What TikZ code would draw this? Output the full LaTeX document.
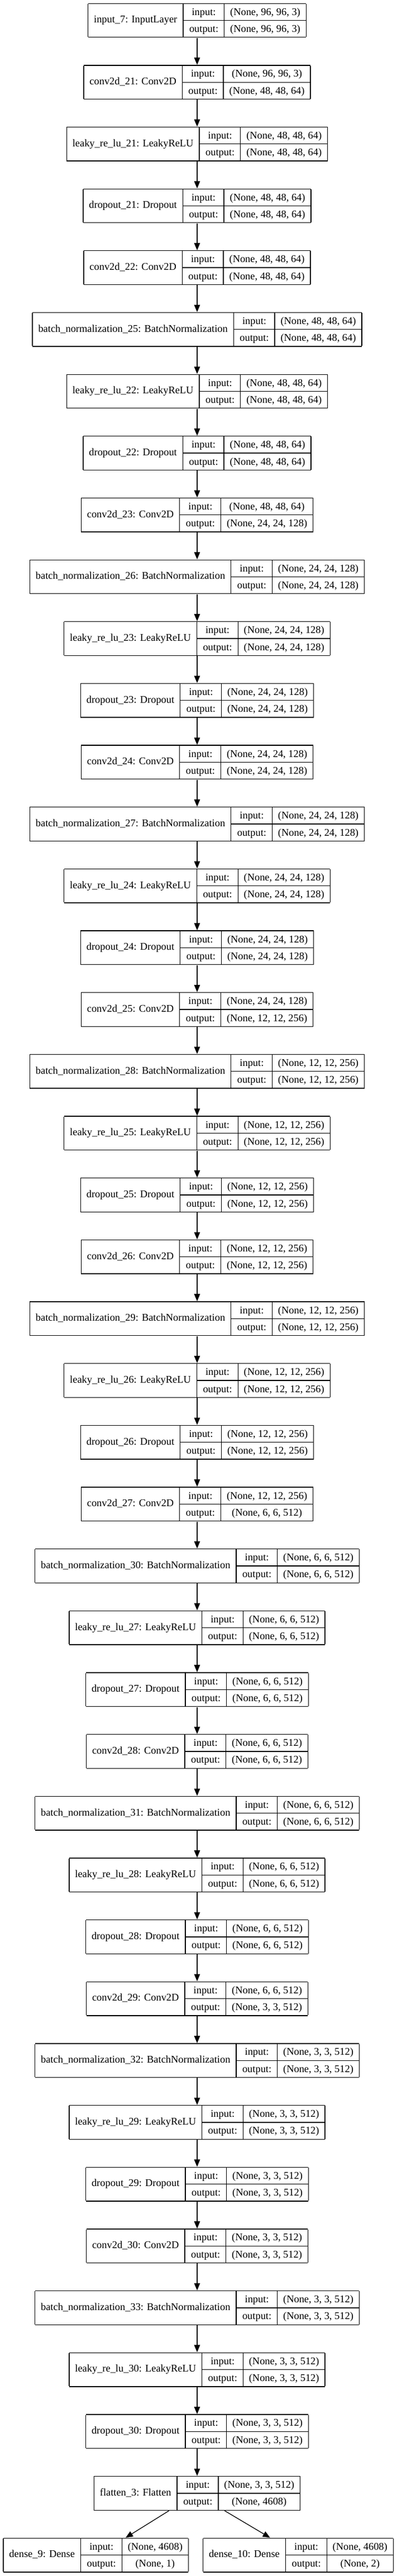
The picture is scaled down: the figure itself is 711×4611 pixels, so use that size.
\documentclass[tikz,border=0pt]{standalone}
\usepackage{fontspec}
\setmainfont{Liberation Serif}
\usetikzlibrary{arrows.meta}
\tikzset{layer/.style={inner sep=0pt,font=\fontsize{18.4}{29}\selectfont},
  flow/.style={-{Triangle[length=13pt,width=10.5pt]},line width=1.3pt}}
\newcommand{\layerbox}[3]{%
  \setlength{\tabcolsep}{10.5pt}\setlength{\arrayrulewidth}{1.3pt}%
  \begin{tabular}{|c|@{}c@{}|}\hline
  #1 & \begin{tabular}{c|c}input: & #2\\\hline output: & #3\end{tabular}\\\hline
  \end{tabular}}

\begin{document}
\begin{tikzpicture}[x=1pt,y=1pt]
            \useasboundingbox (0,0) rectangle (711,-4611);
            % слои
            \node[layer] (l1) at (353,-36.5) {\layerbox{input\_7: InputLayer}{(None, 96, 96, 3)}{(None, 96, 96, 3)}};
            \node[layer] (l2) at (353,-147.16) {\layerbox{conv2d\_21: Conv2D}{(None, 96, 96, 3)}{(None, 48, 48, 64)}};
            \node[layer] (l3) at (353,-257.82) {\layerbox{leaky\_re\_lu\_21: LeakyReLU}{(None, 48, 48, 64)}{(None, 48, 48, 64)}};
            \node[layer] (l4) at (353,-368.48) {\layerbox{dropout\_21: Dropout}{(None, 48, 48, 64)}{(None, 48, 48, 64)}};
            \node[layer] (l5) at (353,-479.14) {\layerbox{conv2d\_22: Conv2D}{(None, 48, 48, 64)}{(None, 48, 48, 64)}};
            \node[layer] (l6) at (353,-589.8) {\layerbox{batch\_normalization\_25: BatchNormalization}{(None, 48, 48, 64)}{(None, 48, 48, 64)}};
            \node[layer] (l7) at (353,-700.46) {\layerbox{leaky\_re\_lu\_22: LeakyReLU}{(None, 48, 48, 64)}{(None, 48, 48, 64)}};
            \node[layer] (l8) at (353,-811.12) {\layerbox{dropout\_22: Dropout}{(None, 48, 48, 64)}{(None, 48, 48, 64)}};
            \node[layer] (l9) at (353,-921.78) {\layerbox{conv2d\_23: Conv2D}{(None, 48, 48, 64)}{(None, 24, 24, 128)}};
            \node[layer] (l10) at (353,-1032.44) {\layerbox{batch\_normalization\_26: BatchNormalization}{(None, 24, 24, 128)}{(None, 24, 24, 128)}};
            \node[layer] (l11) at (353,-1143.1) {\layerbox{leaky\_re\_lu\_23: LeakyReLU}{(None, 24, 24, 128)}{(None, 24, 24, 128)}};
            \node[layer] (l12) at (353,-1253.76) {\layerbox{dropout\_23: Dropout}{(None, 24, 24, 128)}{(None, 24, 24, 128)}};
            \node[layer] (l13) at (353,-1364.42) {\layerbox{conv2d\_24: Conv2D}{(None, 24, 24, 128)}{(None, 24, 24, 128)}};
            \node[layer] (l14) at (353,-1475.08) {\layerbox{batch\_normalization\_27: BatchNormalization}{(None, 24, 24, 128)}{(None, 24, 24, 128)}};
            \node[layer] (l15) at (353,-1585.74) {\layerbox{leaky\_re\_lu\_24: LeakyReLU}{(None, 24, 24, 128)}{(None, 24, 24, 128)}};
            \node[layer] (l16) at (353,-1696.4) {\layerbox{dropout\_24: Dropout}{(None, 24, 24, 128)}{(None, 24, 24, 128)}};
            \node[layer] (l17) at (353,-1807.06) {\layerbox{conv2d\_25: Conv2D}{(None, 24, 24, 128)}{(None, 12, 12, 256)}};
            \node[layer] (l18) at (353,-1917.72) {\layerbox{batch\_normalization\_28: BatchNormalization}{(None, 12, 12, 256)}{(None, 12, 12, 256)}};
            \node[layer] (l19) at (353,-2028.38) {\layerbox{leaky\_re\_lu\_25: LeakyReLU}{(None, 12, 12, 256)}{(None, 12, 12, 256)}};
            \node[layer] (l20) at (353,-2139.04) {\layerbox{dropout\_25: Dropout}{(None, 12, 12, 256)}{(None, 12, 12, 256)}};
            \node[layer] (l21) at (353,-2249.7) {\layerbox{conv2d\_26: Conv2D}{(None, 12, 12, 256)}{(None, 12, 12, 256)}};
            \node[layer] (l22) at (353,-2360.36) {\layerbox{batch\_normalization\_29: BatchNormalization}{(None, 12, 12, 256)}{(None, 12, 12, 256)}};
            \node[layer] (l23) at (353,-2471.02) {\layerbox{leaky\_re\_lu\_26: LeakyReLU}{(None, 12, 12, 256)}{(None, 12, 12, 256)}};
            \node[layer] (l24) at (353,-2581.68) {\layerbox{dropout\_26: Dropout}{(None, 12, 12, 256)}{(None, 12, 12, 256)}};
            \node[layer] (l25) at (353,-2692.34) {\layerbox{conv2d\_27: Conv2D}{(None, 12, 12, 256)}{(None, 6, 6, 512)}};
            \node[layer] (l26) at (353,-2803) {\layerbox{batch\_normalization\_30: BatchNormalization}{(None, 6, 6, 512)}{(None, 6, 6, 512)}};
            \node[layer] (l27) at (353,-2913.66) {\layerbox{leaky\_re\_lu\_27: LeakyReLU}{(None, 6, 6, 512)}{(None, 6, 6, 512)}};
            \node[layer] (l28) at (353,-3024.32) {\layerbox{dropout\_27: Dropout}{(None, 6, 6, 512)}{(None, 6, 6, 512)}};
            \node[layer] (l29) at (353,-3134.98) {\layerbox{conv2d\_28: Conv2D}{(None, 6, 6, 512)}{(None, 6, 6, 512)}};
            \node[layer] (l30) at (353,-3245.64) {\layerbox{batch\_normalization\_31: BatchNormalization}{(None, 6, 6, 512)}{(None, 6, 6, 512)}};
            \node[layer] (l31) at (353,-3356.3) {\layerbox{leaky\_re\_lu\_28: LeakyReLU}{(None, 6, 6, 512)}{(None, 6, 6, 512)}};
            \node[layer] (l32) at (353,-3466.96) {\layerbox{dropout\_28: Dropout}{(None, 6, 6, 512)}{(None, 6, 6, 512)}};
            \node[layer] (l33) at (353,-3577.62) {\layerbox{conv2d\_29: Conv2D}{(None, 6, 6, 512)}{(None, 3, 3, 512)}};
            \node[layer] (l34) at (353,-3688.28) {\layerbox{batch\_normalization\_32: BatchNormalization}{(None, 3, 3, 512)}{(None, 3, 3, 512)}};
            \node[layer] (l35) at (353,-3798.94) {\layerbox{leaky\_re\_lu\_29: LeakyReLU}{(None, 3, 3, 512)}{(None, 3, 3, 512)}};
            \node[layer] (l36) at (353,-3909.6) {\layerbox{dropout\_29: Dropout}{(None, 3, 3, 512)}{(None, 3, 3, 512)}};
            \node[layer] (l37) at (353,-4020.26) {\layerbox{conv2d\_30: Conv2D}{(None, 3, 3, 512)}{(None, 3, 3, 512)}};
            \node[layer] (l38) at (353,-4130.92) {\layerbox{batch\_normalization\_33: BatchNormalization}{(None, 3, 3, 512)}{(None, 3, 3, 512)}};
            \node[layer] (l39) at (353,-4241.58) {\layerbox{leaky\_re\_lu\_30: LeakyReLU}{(None, 3, 3, 512)}{(None, 3, 3, 512)}};
            \node[layer] (l40) at (353,-4352.24) {\layerbox{dropout\_30: Dropout}{(None, 3, 3, 512)}{(None, 3, 3, 512)}};
            \node[layer] (l41) at (353,-4462.9) {\layerbox{flatten\_3: Flatten}{(None, 3, 3, 512)}{(None, 4608)}};
            % выходы
            \node[layer] (d9) at (171.7,-4573.56) {\layerbox{dense\_9: Dense}{(None, 4608)}{(None, 1)}};
            \node[layer] (d10) at (534,-4573.56) {\layerbox{dense\_10: Dense}{(None, 4608)}{(None, 2)}};

            % стрелки
            \draw[flow] (l1) -- (l2);
            \draw[flow] (l2) -- (l3);
            \draw[flow] (l3) -- (l4);
            \draw[flow] (l4) -- (l5);
            \draw[flow] (l5) -- (l6);
            \draw[flow] (l6) -- (l7);
            \draw[flow] (l7) -- (l8);
            \draw[flow] (l8) -- (l9);
            \draw[flow] (l9) -- (l10);
            \draw[flow] (l10) -- (l11);
            \draw[flow] (l11) -- (l12);
            \draw[flow] (l12) -- (l13);
            \draw[flow] (l13) -- (l14);
            \draw[flow] (l14) -- (l15);
            \draw[flow] (l15) -- (l16);
            \draw[flow] (l16) -- (l17);
            \draw[flow] (l17) -- (l18);
            \draw[flow] (l18) -- (l19);
            \draw[flow] (l19) -- (l20);
            \draw[flow] (l20) -- (l21);
            \draw[flow] (l21) -- (l22);
            \draw[flow] (l22) -- (l23);
            \draw[flow] (l23) -- (l24);
            \draw[flow] (l24) -- (l25);
            \draw[flow] (l25) -- (l26);
            \draw[flow] (l26) -- (l27);
            \draw[flow] (l27) -- (l28);
            \draw[flow] (l28) -- (l29);
            \draw[flow] (l29) -- (l30);
            \draw[flow] (l30) -- (l31);
            \draw[flow] (l31) -- (l32);
            \draw[flow] (l32) -- (l33);
            \draw[flow] (l33) -- (l34);
            \draw[flow] (l34) -- (l35);
            \draw[flow] (l35) -- (l36);
            \draw[flow] (l36) -- (l37);
            \draw[flow] (l37) -- (l38);
            \draw[flow] (l38) -- (l39);
            \draw[flow] (l39) -- (l40);
            \draw[flow] (l40) -- (l41);
            % разветвление
            \draw[flow] ([xshift=-50.3]l41.south) -- ([xshift=53.3]d9.north);
            \draw[flow] ([xshift=49.2]l41.south) -- ([xshift=-50.3]d10.north);
\end{tikzpicture}
\end{document}
